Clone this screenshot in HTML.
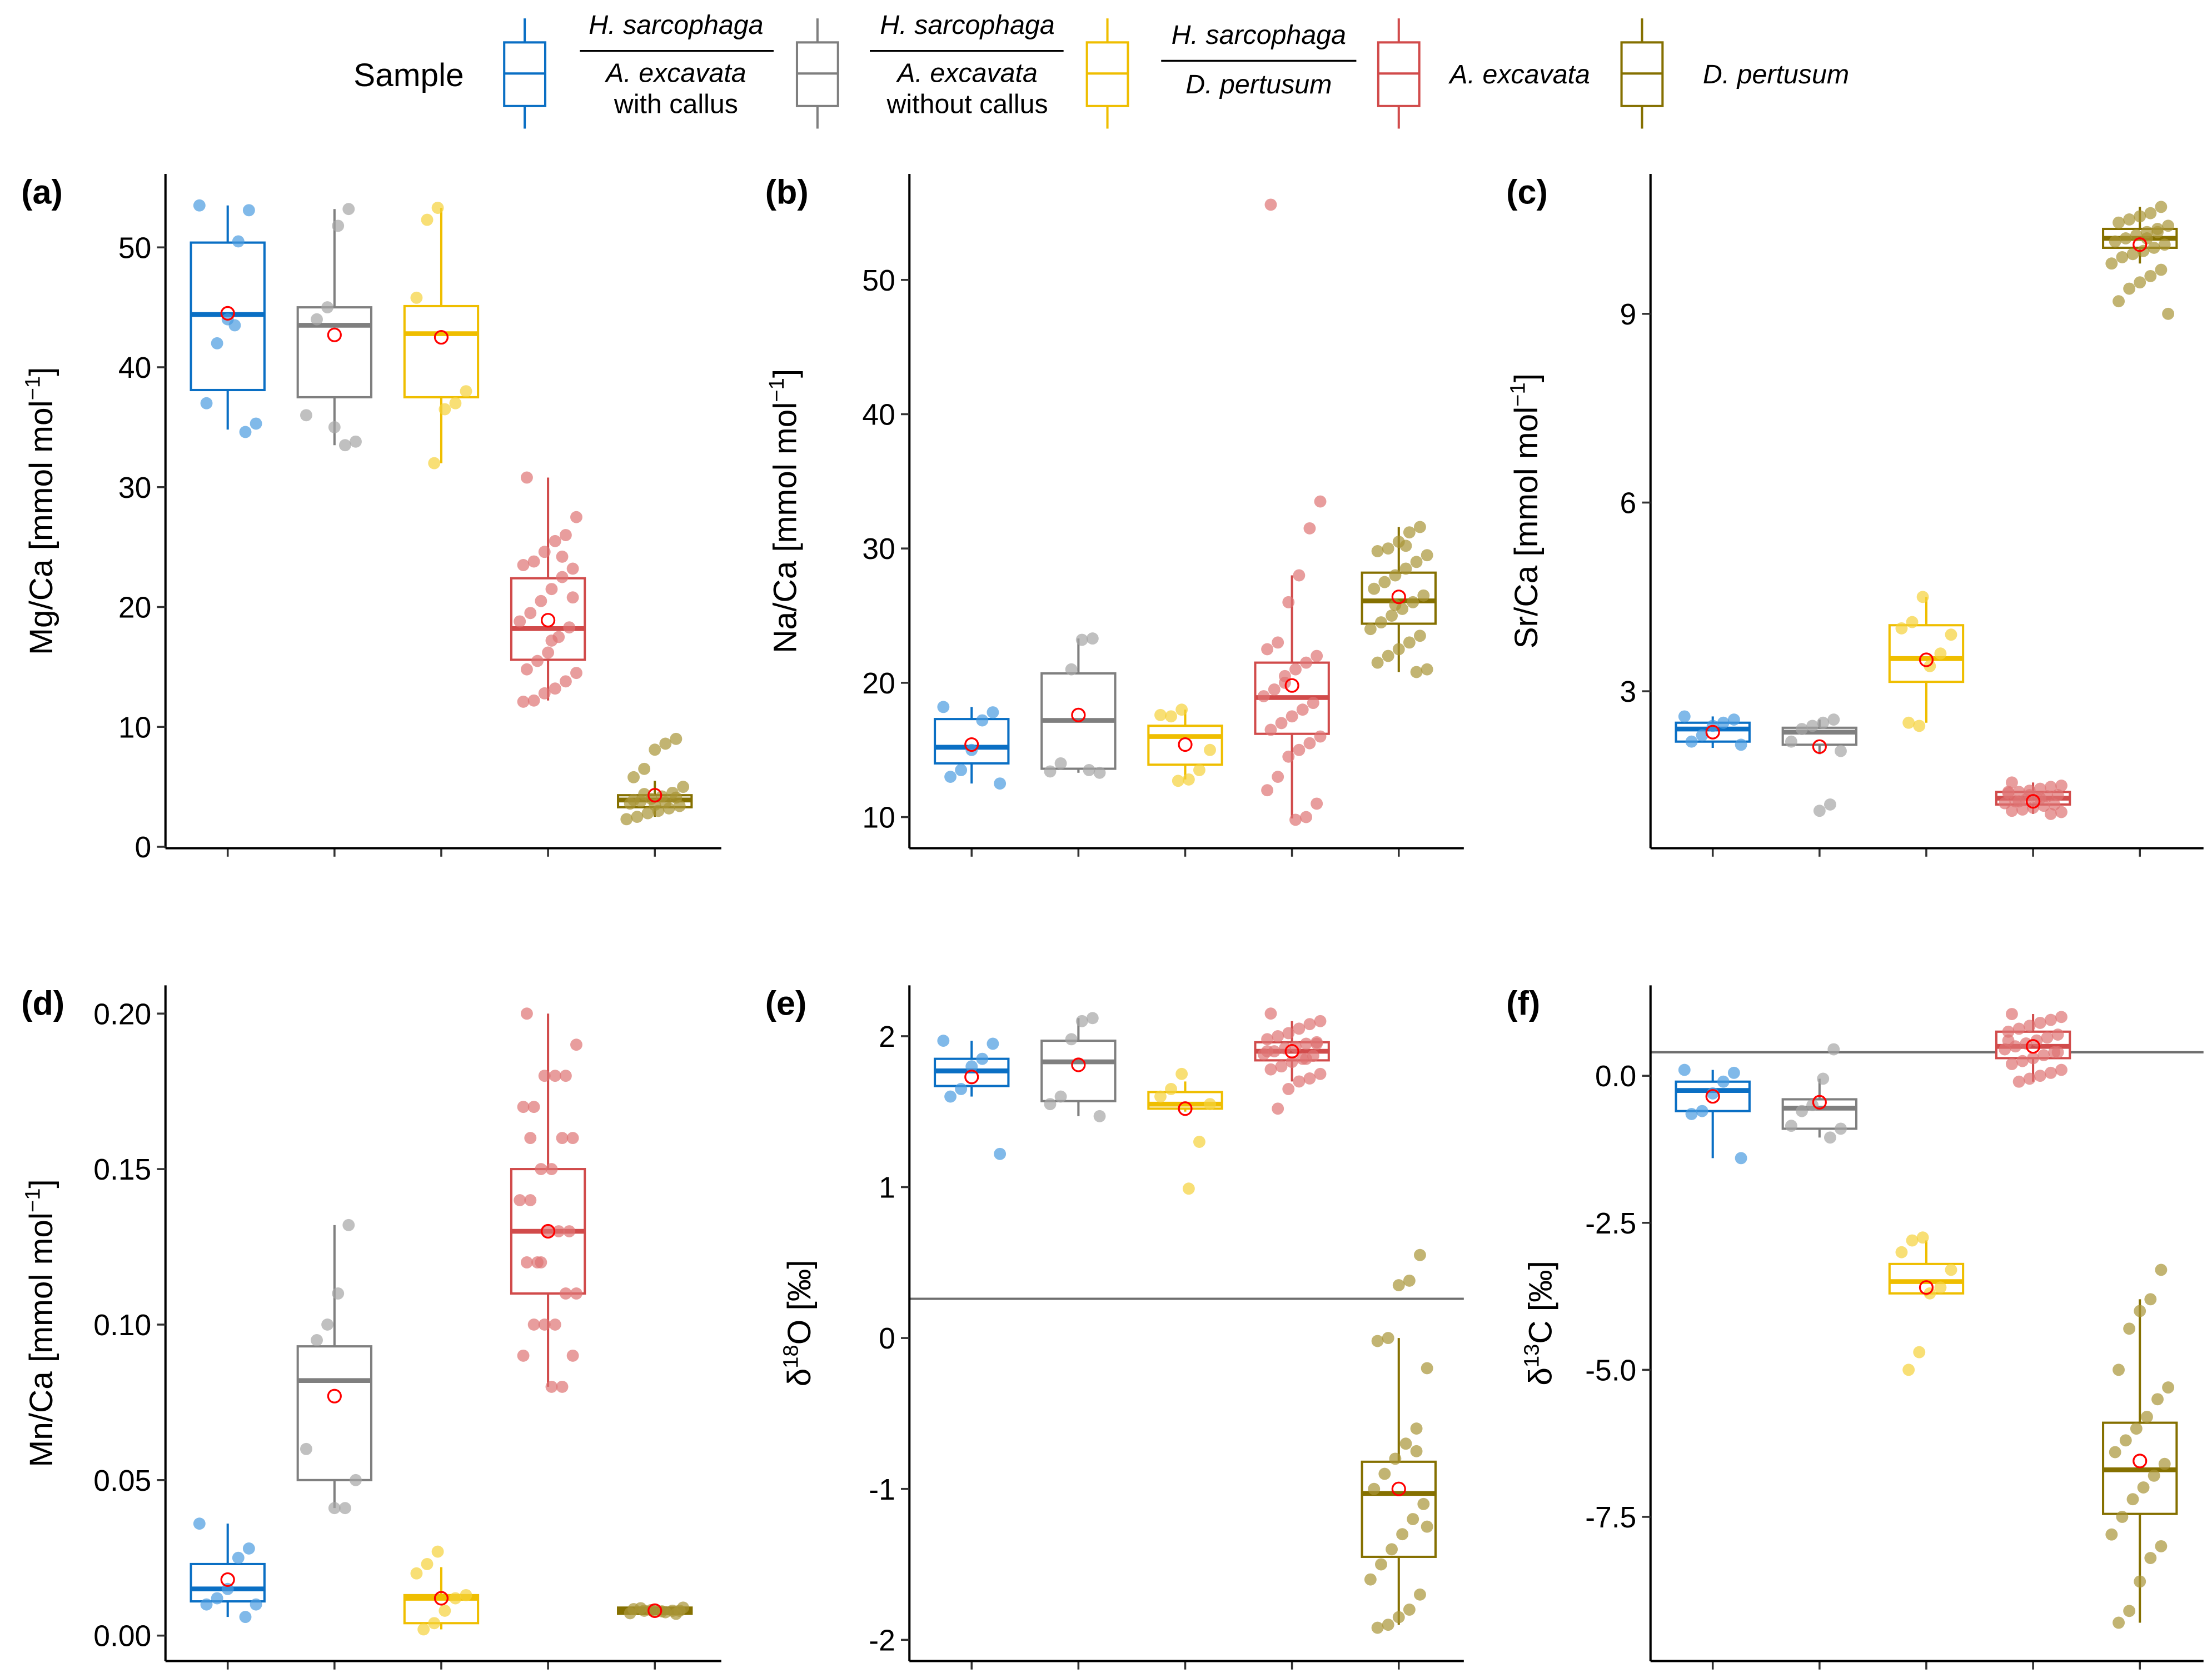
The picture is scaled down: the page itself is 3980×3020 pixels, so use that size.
<!DOCTYPE html>
<html><head><meta charset="utf-8"><style>
html,body{margin:0;padding:0;background:#fff}
svg{display:block}
text{font-family:"Liberation Sans",Arial,sans-serif;fill:#000}
</style></head><body>
<svg id="fig" xmlns="http://www.w3.org/2000/svg" width="3980" height="3020" viewBox="0 0 1564 1187" preserveAspectRatio="none">
<g id="legend"></g>
<g id="panels"></g>
</svg>
<script>
// ---------- DATA ----------
const groupNames = ["H. sarcophaga / A. excavata with callus","H. sarcophaga / A. excavata without callus","H. sarcophaga / D. pertusum","A. excavata","D. pertusum"];
const groupColors = ["#0a6fc4","#7f7f7f","#efbe00","#d14b4b","#857000"];
const groupFills = ["#4a9be0","#a5a5a5","#f5d23a","#de7474","#a89436"];

// box stats per group: [q1, median, q3, whiskerLow, whiskerHigh]
const mgBox = [[38.1,44.4,50.4,34.8,53.5],[37.5,43.5,45,33.5,53.2],[37.5,42.8,45.1,32,53.3],[15.6,18.2,22.4,12.2,30.8],[3.3,3.9,4.3,2.5,5.5]];
const mgMean = [44.5,42.7,42.5,18.9,4.3];
const mgPoints = [[53.5,53.1,50.5,44,42,37,35.3,34.6,43.5],[53.2,51.8,45,44,36,33.8,33.5,35],[53.3,52.3,45.8,38,37,36.5,32],
 [30.8,27.5,26,25.5,24.6,23.8,23.5,23.2,22.5,21.5,20.5,19.5,18.8,18.3,17.5,16.2,15.5,14.8,14.5,13.8,13.2,12.8,12.2,12.1,20.8,24.2,17.2],
 [9,8.6,8.1,6.5,5.8,5,4.5,4.2,4,3.8,3.6,3.4,3.2,3,2.8,2.5,2.3,4.1,3.7,3.5,4.4,3.9]];

const naBox = [[14,15.2,17.3,12.5,18.2],[13.6,17.2,20.7,13.3,23.3],[13.9,16,16.8,12.8,18],[16.2,18.9,21.5,9.9,28],[24.4,26.1,28.2,20.8,31.6]];
const naMean = [15.4,17.6,15.4,19.8,26.4];
const naPoints = [[18.2,17.8,17.2,15,13.5,13,12.5],[23.3,23.2,21,14,13.4,13.3,13.5],[18,17.5,17.6,15,13.5,12.8,12.7],
 [55.6,33.5,31.5,28,26,23,22.5,22,21.5,21,20,19.5,19,18.5,18,17.5,17,16.5,16,15.5,15,14.5,13,12,11,10,9.8,20.5],
 [31.6,31.2,30.5,30,29.8,29.5,29,28.5,28,27.5,27,26.5,26,25.5,25,24.5,24,23.5,23,22.5,22,21.5,21,20.8,30.2,25.8]];

const srBox = [[2.2,2.4,2.5,2.1,2.6],[2.15,2.35,2.42,2.0,2.55],[3.15,3.52,4.05,2.5,4.5],[1.2,1.3,1.4,1.05,1.55],[10.05,10.2,10.35,9.8,10.7]];
const srMean = [2.35,2.12,3.5,1.25,10.1];
const srPoints = [[2.6,2.55,2.5,2.45,2.3,2.2,2.15],[2.55,2.5,2.45,2.4,2.2,2.05,1.2,1.1],[4.5,4.1,4.0,3.9,3.6,3.4,2.45,2.5],
 [1.55,1.5,1.48,1.45,1.42,1.4,1.38,1.35,1.33,1.3,1.28,1.25,1.22,1.2,1.18,1.15,1.12,1.1,1.08,1.05,1.3,1.35,1.25,1.4],
 [10.7,10.6,10.55,10.5,10.45,10.4,10.35,10.3,10.25,10.2,10.15,10.1,10.05,10,9.95,9.9,9.8,9.7,9.6,9.5,9.4,9.2,9.0,10.3,10.2]];

const mnBox = [[0.011,0.015,0.023,0.006,0.036],[0.05,0.082,0.093,0.041,0.132],[0.004,0.012,0.013,0.002,0.022],[0.11,0.13,0.15,0.08,0.2],[0.007,0.008,0.009,0.007,0.009]];
const mnMean = [0.018,0.077,0.012,0.13,0.008];
const mnPoints = [[0.036,0.028,0.025,0.015,0.012,0.010,0.010,0.006],[0.132,0.11,0.1,0.095,0.06,0.05,0.041,0.041],[0.027,0.023,0.02,0.013,0.012,0.008,0.004,0.002],
 [0.2,0.19,0.18,0.18,0.18,0.17,0.17,0.16,0.16,0.15,0.15,0.14,0.14,0.13,0.13,0.13,0.12,0.12,0.11,0.11,0.1,0.1,0.1,0.09,0.09,0.08,0.08,0.12,0.16],
 [0.007,0.0075,0.008,0.008,0.0085,0.009,0.008,0.0078,0.0082,0.0088,0.0072,0.008]];

const oBox = [[1.67,1.77,1.85,1.6,1.97],[1.57,1.83,1.97,1.47,2.12],[1.52,1.55,1.63,1.5,1.7],[1.84,1.9,1.96,1.7,2.1],[-1.45,-1.03,-0.82,-1.9,0]];
const oMean = [1.73,1.81,1.52,1.9,-1.0];
const oPoints = [[1.97,1.95,1.85,1.8,1.65,1.6,1.22],[2.12,2.1,1.98,1.6,1.55,1.47],[1.75,1.65,1.6,1.55,1.3,0.99],
 [2.15,2.1,2.08,2.05,2.02,2.0,1.98,1.96,1.95,1.93,1.92,1.9,1.88,1.87,1.85,1.83,1.8,1.78,1.75,1.72,1.7,1.65,1.52,1.9,1.95,1.85],
 [0.55,0.38,0.35,0,-0.02,-0.2,-0.6,-0.7,-0.8,-0.9,-1,-1.1,-1.2,-1.3,-1.4,-1.5,-1.6,-1.7,-1.8,-1.85,-1.9,-1.92,-1.25,-0.75]];
const oRef = 0.26;

const cBox = [[-0.6,-0.25,-0.1,-1.4,0.1],[-0.9,-0.55,-0.4,-1.05,-0.05],[-3.7,-3.5,-3.2,-3.75,-2.8],[0.3,0.5,0.75,-0.1,1.05],[-7.45,-6.7,-5.9,-9.3,-3.8]];
const cMean = [-0.35,-0.45,-3.6,0.5,-6.55];
const cPoints = [[0.1,0.05,-0.1,-0.3,-0.6,-0.65,-1.4],[0.45,-0.05,-0.5,-0.6,-0.85,-0.9,-1.05],[-2.75,-2.8,-3.0,-3.3,-3.6,-3.7,-4.7,-5.0],
 [1.05,1.0,0.95,0.9,0.85,0.8,0.75,0.7,0.65,0.6,0.55,0.5,0.45,0.4,0.35,0.3,0.25,0.2,0.1,0.05,0,-0.05,-0.1,0.6,0.4],
 [-3.3,-3.8,-4.0,-4.3,-5.0,-5.3,-5.5,-5.8,-6.0,-6.2,-6.4,-6.6,-6.8,-7.0,-7.2,-7.5,-7.8,-8.0,-8.2,-8.6,-9.1,-9.3]];
const cRef = 0.4;

const mgTicks = [0,10,20,30,40,50], naTicks=[10,20,30,40,50], srTicks=[3,6,9];
const mnTicks = [0,0.05,0.10,0.15,0.20], mnTickLabels=["0.00","0.05","0.10","0.15","0.20"];
const oTicks = [-2,-1,0,1,2], cTicks=[0,-2.5,-5,-7.5], cTickLabels=["0.0","-2.5","-5.0","-7.5"];

// ---------- DRAW ----------
const NS="http://www.w3.org/2000/svg";
function mk(tag, attrs, parent){const e=document.createElementNS(NS,tag);for(const k in attrs)e.setAttribute(k,attrs[k]);parent.appendChild(e);return e;}
const panelsG=document.getElementById('panels');

const panels=[
 {id:'a',x0:117,x1:510,top:123,bot:600,v1:0,p1:599,v2:50,p2:175,box:mgBox,mean:mgMean,pts:mgPoints,ticks:mgTicks,labels:null,title:'Mg/Ca',kind:'mmol'},
 {id:'b',x0:643,x1:1035,top:123,bot:600,v1:10,p1:578,v2:50,p2:198,box:naBox,mean:naMean,pts:naPoints,ticks:naTicks,labels:null,title:'Na/Ca',kind:'mmol'},
 {id:'c',x0:1167,x1:1558,top:123,bot:600,v1:3,p1:489,v2:9,p2:222,box:srBox,mean:srMean,pts:srPoints,ticks:srTicks,labels:null,title:'Sr/Ca',kind:'mmol'},
 {id:'d',x0:117,x1:510,top:697,bot:1175,v1:0,p1:1157,v2:0.2,p2:717,box:mnBox,mean:mnMean,pts:mnPoints,ticks:mnTicks,labels:mnTickLabels,title:'Mn/Ca',kind:'mmol'},
 {id:'e',x0:643,x1:1035,top:697,bot:1175,v1:-2,p1:1160,v2:2,p2:733,box:oBox,mean:oMean,pts:oPoints,ticks:oTicks,labels:null,title:'18O',kind:'delta',ref:oRef},
 {id:'f',x0:1167,x1:1558,top:697,bot:1175,v1:0,p1:761,v2:-7.5,p2:1073,box:cBox,mean:cMean,pts:cPoints,ticks:cTicks,labels:cTickLabels,title:'13C',kind:'delta',ref:cRef}
];

function jit(i,g){return (((i*7919+g*131)%17)/16-0.5)*40;}

panels.forEach(P=>{
 const g=mk('g',{},panelsG);
 
 
 const y=v=>P.p1+(v-P.v1)*(P.p2-P.p1)/(P.v2-P.v1);
 const xc=i=>P.x0+44+i*75.5;
 // reference line
 if(P.ref!==undefined){
  const l=mk('line',{x1:P.x0,x2:P.x1,y1:y(P.ref),y2:y(P.ref),stroke:'#6e6e6e','stroke-width':1.6},g);
  
  
 }
 P.box.forEach((b,i)=>{
  const c=groupColors[i],x=xc(i),hw=26;
  const bg=mk('g',{},g);
  
  
  mk('line',{x1:x,x2:x,y1:y(b[2]),y2:y(b[4]),stroke:c,'stroke-width':1.6},bg);
  mk('line',{x1:x,x2:x,y1:y(b[0]),y2:y(b[3]),stroke:c,'stroke-width':1.6},bg);
  const top=Math.min(y(b[0]),y(b[2])),h=Math.abs(y(b[0])-y(b[2]));
  mk('rect',{x:x-hw,y:top,width:hw*2,height:h,fill:'#fff',stroke:c,'stroke-width':1.6},bg);
  mk('line',{x1:x-hw,x2:x+hw,y1:y(b[1]),y2:y(b[1]),stroke:c,'stroke-width':3.4},bg);
  P.pts[i].forEach((v,k)=>{
   const p=mk('circle',{cx:x+jit(k,i),cy:y(v),r:4.3,fill:groupFills[i],'fill-opacity':0.7},g);
   
   
  });
  const m=mk('circle',{cx:x,cy:y(P.mean[i]),r:4.5,fill:'none',stroke:'#ff0000','stroke-width':1.3},g);
  
  
  mk('line',{x1:x,x2:x,y1:P.bot,y2:P.bot+6,stroke:'#333','stroke-width':1.4},g);
 });
 // axes
 const ax=mk('g',{},g);
 
 
 mk('line',{x1:P.x0,x2:P.x0,y1:P.top,y2:P.bot,stroke:'#000','stroke-width':1.6},ax);
 mk('line',{x1:P.x0,x2:P.x1,y1:P.bot,y2:P.bot,stroke:'#000','stroke-width':1.6},ax);
 P.ticks.forEach((t,k)=>{
  mk('line',{x1:P.x0-6,x2:P.x0,y1:y(t),y2:y(t),stroke:'#333','stroke-width':1.4},ax);
  const tx=mk('text',{x:P.x0-10,y:y(t)+7.5,'text-anchor':'end','font-size':21},ax);
  tx.textContent=P.labels?P.labels[k]:String(t);
  
  
 });
 // panel label
 const pl=mk('text',{x:P.x0-102,y:P.top+21,'font-size':24,'font-weight':'bold'},g);
 pl.textContent='('+P.id+')';
 
 
 // y title
 const cy=(P.top+P.bot)/2, tx=P.x0-(P.kind==='mmol'?80:70);
 const t=mk('text',{transform:`translate(${tx},${cy}) rotate(-90)`,'text-anchor':'middle','font-size':23},g);
 
 
 if(P.kind==='mmol'){
  t.innerHTML=P.title+' [mmol mol<tspan dy="-9" font-size="15">−1</tspan><tspan dy="9">]</tspan>';
 } else {
  const num=P.title.replace(/[A-Z]/g,''),el=P.title.replace(/[0-9]/g,'');
  t.innerHTML='δ<tspan dy="-9" font-size="15">'+num+'</tspan><tspan dy="9">'+el+' [‰]</tspan>';
 }
});

// ---------- LEGEND ----------
const L=document.getElementById('legend');
const st=mk('text',{x:250,y:61,'font-size':23},L);
st.textContent='Sample';


const keyX=[371,578,783,989,1161];
keyX.forEach((x,i)=>{
 const c=groupColors[i];
 const kg=mk('g',{},L);
 
 
 mk('line',{x1:x,x2:x,y1:13,y2:91,stroke:c,'stroke-width':1.6},kg);
 mk('rect',{x:x-14.5,y:30,width:29,height:45,fill:'#fff',stroke:c,'stroke-width':1.6},kg);
 mk('line',{x1:x-14.5,x2:x+14.5,y1:52,y2:52,stroke:c,'stroke-width':1.6},kg);
});
function lt(x,y,s,it,anchor){const t=mk('text',{x:x,y:y,'font-size':19,'text-anchor':anchor||'middle','font-style':it?'italic':'normal'},L);t.textContent=s;return t;}
lt(478,24,'H. sarcophaga',1); mk('line',{x1:410,x2:547,y1:36,y2:36,stroke:'#000','stroke-width':1.3},L);
lt(478,58,'A. excavata',1); lt(478,80,'with callus',0);
lt(684,24,'H. sarcophaga',1); mk('line',{x1:615,x2:752,y1:36,y2:36,stroke:'#000','stroke-width':1.3},L);
lt(684,58,'A. excavata',1); lt(684,80,'without callus',0);
lt(890,31,'H. sarcophaga',1); mk('line',{x1:821,x2:959,y1:43,y2:43,stroke:'#000','stroke-width':1.3},L);
lt(890,66,'D. pertusum',1);
lt(1025,59,'A. excavata',1,'start');
lt(1204,59,'D. pertusum',1,'start');
</script>
</body></html>
